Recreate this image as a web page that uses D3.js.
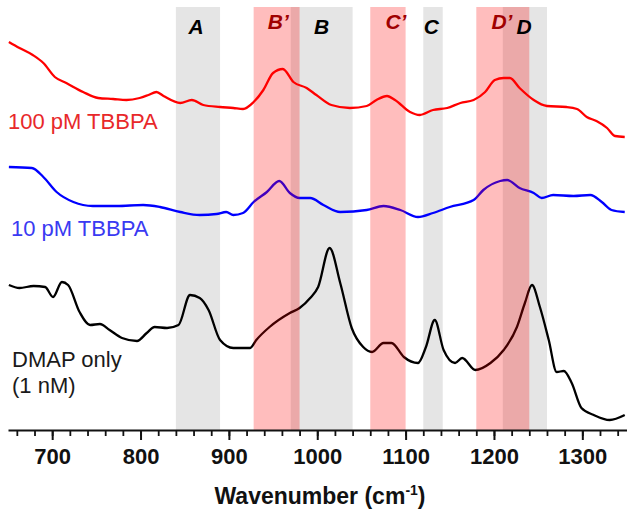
<!DOCTYPE html>
<html>
<head>
<meta charset="utf-8">
<script src="https://cdn.jsdelivr.net/npm/d3@7/dist/d3.min.js"></script>
<style>
  html, body { margin: 0; padding: 0; background: #fff; }
  svg { display: block; font-family: "Liberation Sans", Arial, sans-serif; }
</style>
</head>
<body>
<svg id="chart" width="636" height="517"></svg>
<script>
// ---- Data (wavenumber in cm^-1, intensity in arbitrary units) ----
const wn100 = [651,663,678,690,703,716,735,752,769,784,799,809,818,826,845,858,871,890,905,916,928,939,950,961,973,988,999,1016,1037,1056,1067,1079,1088,1105,1116,1131,1147,1162,1177,1190,1201,1211,1218,1229,1245,1260,1282,1294,1305,1316,1328,1337,1348];
const int100 = [388,382,375,367,353,347,338,332,331,330,332,335,338,334,327,330,325,323,322,321,328,340,357,361,348,342,335,325,322,324,330,334,330,318,315,320,322,327,330,338,350,352,352,342,330,324,323,321,313,309,302,294,293];

const wn10 = [651,677,690,705,724,746,773,803,822,845,867,886,897,905,916,928,943,957,969,980,992,1007,1026,1056,1075,1094,1114,1131,1150,1177,1188,1207,1215,1229,1245,1254,1267,1290,1309,1322,1333,1348];
const int10 = [263,262,253,238,228,224,224,225,223,218,215,216,218,215,217,228,238,249,237,232,232,225,218,220,224,220,213,217,223,230,240,249,250,242,237,232,235,234,235,228,220,218];

const wnDMAP = [651,663,679,692,701,711,718,731,743,754,765,779,796,807,816,830,843,856,867,877,890,905,924,931,946,969,980,992,1001,1014,1026,1039,1052,1062,1075,1084,1098,1114,1123,1133,1143,1156,1164,1179,1196,1211,1226,1235,1243,1252,1262,1271,1279,1288,1299,1313,1331,1348];
const intDMAP = [145,142,144,143,133,148,145,118,105,106,100,92,89,97,103,102,105,135,132,120,90,82,82,90,103,117,122,132,143,182,147,102,83,78,87,87,73,67,83,110,80,67,72,60,67,80,103,127,145,123,90,58,59,47,22,15,10,15];

// Highlighted bands
const grayBandLabels = ["A", "B", "C", "D"];
const grayBandStart  = [840, 970, 1120, 1210];
const grayBandEnd    = [890, 1040, 1142, 1260];
const grayLabelPos   = [863, 1005, 1129, 1234];

const redBandLabels = ["B\u2019", "C\u2019", "D\u2019"];
const redBandStart  = [928, 1060, 1180];
const redBandEnd    = [980, 1100, 1240];
const redLabelPos   = [956, 1089, 1209];

const majorTicks = [700, 800, 900, 1000, 1100, 1200, 1300];
const minorTicks = d3.range(660, 1341, 20);

// ---- Layout ----
const svg = d3.select("#chart");
const x = d3.scaleLinear().domain([650, 1350]).range([8, 626.5]);
const y = d3.scaleLinear().domain([0, 423]).range([430, 7]);
const yTop = y(423), yBot = y(0);

// Gray bands (under curves)
svg.append("g").selectAll("rect").data(grayBandStart).join("rect")
  .attr("x", (d) => x(d))
  .attr("width", (d, i) => x(grayBandEnd[i]) - x(d))
  .attr("y", yTop).attr("height", yBot - yTop)
  .attr("fill", "#e5e5e5");

// Curves
const series = [
  { wn: wn100, val: int100, color: "#ff0000" },
  { wn: wn10, val: int10, color: "#0000ff" },
  { wn: wnDMAP, val: intDMAP, color: "#000000" }
];
const line = d3.line().x((d) => x(d[0])).y((d) => y(d[1])).curve(d3.curveMonotoneX);
svg.append("g").selectAll("path").data(series).join("path")
  .attr("d", (s) => line(s.wn.map((w, i) => [w, s.val[i]])))
  .attr("fill", "none")
  .attr("stroke", (s) => s.color)
  .attr("stroke-width", 2.3)
  .attr("stroke-linejoin", "round");

// Red bands (translucent, over curves)
svg.append("g").selectAll("rect").data(redBandStart).join("rect")
  .attr("x", (d) => x(d))
  .attr("width", (d, i) => x(redBandEnd[i]) - x(d))
  .attr("y", yTop).attr("height", yBot - yTop)
  .attr("fill", "#ff0000").attr("fill-opacity", 0.26);

// Band labels
svg.append("g").selectAll("text").data(grayBandLabels).join("text")
  .attr("x", (d, i) => x(grayLabelPos[i]))
  .attr("y", 34)
  .attr("text-anchor", "middle")
  .attr("font-size", 21).attr("font-weight", "bold").attr("font-style", "italic")
  .attr("fill", "#000")
  .text((d) => d);
svg.append("g").selectAll("text").data(redBandLabels).join("text")
  .attr("x", (d, i) => x(redLabelPos[i]))
  .attr("y", 29)
  .attr("text-anchor", "middle")
  .attr("font-size", 21).attr("font-weight", "bold").attr("font-style", "italic")
  .attr("fill", "#a00000")
  .text((d) => d);

// Curve labels
svg.append("text").attr("x", 8).attr("y", 129)
  .attr("font-size", 22).attr("fill", "#e8282a").text("100 pM TBBPA");
svg.append("text").attr("x", 11).attr("y", 236)
  .attr("font-size", 22).attr("fill", "#3a3af2").text("10 pM TBBPA");
svg.append("text").attr("x", 12).attr("y", 367)
  .attr("font-size", 22).attr("fill", "#1a1a1a").text("DMAP only");
svg.append("text").attr("x", 12).attr("y", 393)
  .attr("font-size", 22).attr("fill", "#1a1a1a").text("(1 nM)");

// Axis
const axisG = svg.append("g").attr("transform", `translate(0,${yBot})`);
axisG.append("g")
  .call(d3.axisBottom(x).tickValues(minorTicks).tickSize(6).tickSizeOuter(0).tickFormat(""))
  .call((g) => g.selectAll("line").attr("stroke", "#111").attr("stroke-width", 1.8))
  .call((g) => g.select(".domain").remove());
const major = axisG.append("g")
  .call(d3.axisBottom(x).tickValues(majorTicks).tickSize(10).tickSizeOuter(0).tickPadding(8).tickFormat(d3.format("d")));
major.select(".domain").attr("stroke", "#111").attr("stroke-width", 2.2);
major.selectAll("line").attr("stroke", "#111").attr("stroke-width", 2);
major.selectAll("text")
  .attr("font-family", "'Liberation Sans', Arial, sans-serif")
  .attr("font-size", 22).attr("font-weight", "bold").attr("fill", "#111");

// Axis title
const title = svg.append("text")
  .attr("x", 320).attr("y", 504)
  .attr("text-anchor", "middle")
  .attr("font-size", 23).attr("font-weight", "bold").attr("fill", "#111");
title.append("tspan").text("Wavenumber (cm");
title.append("tspan").attr("font-size", 14).attr("dy", -9).text("-1");
title.append("tspan").attr("dy", 9).text(")");
</script>
</body>
</html>
